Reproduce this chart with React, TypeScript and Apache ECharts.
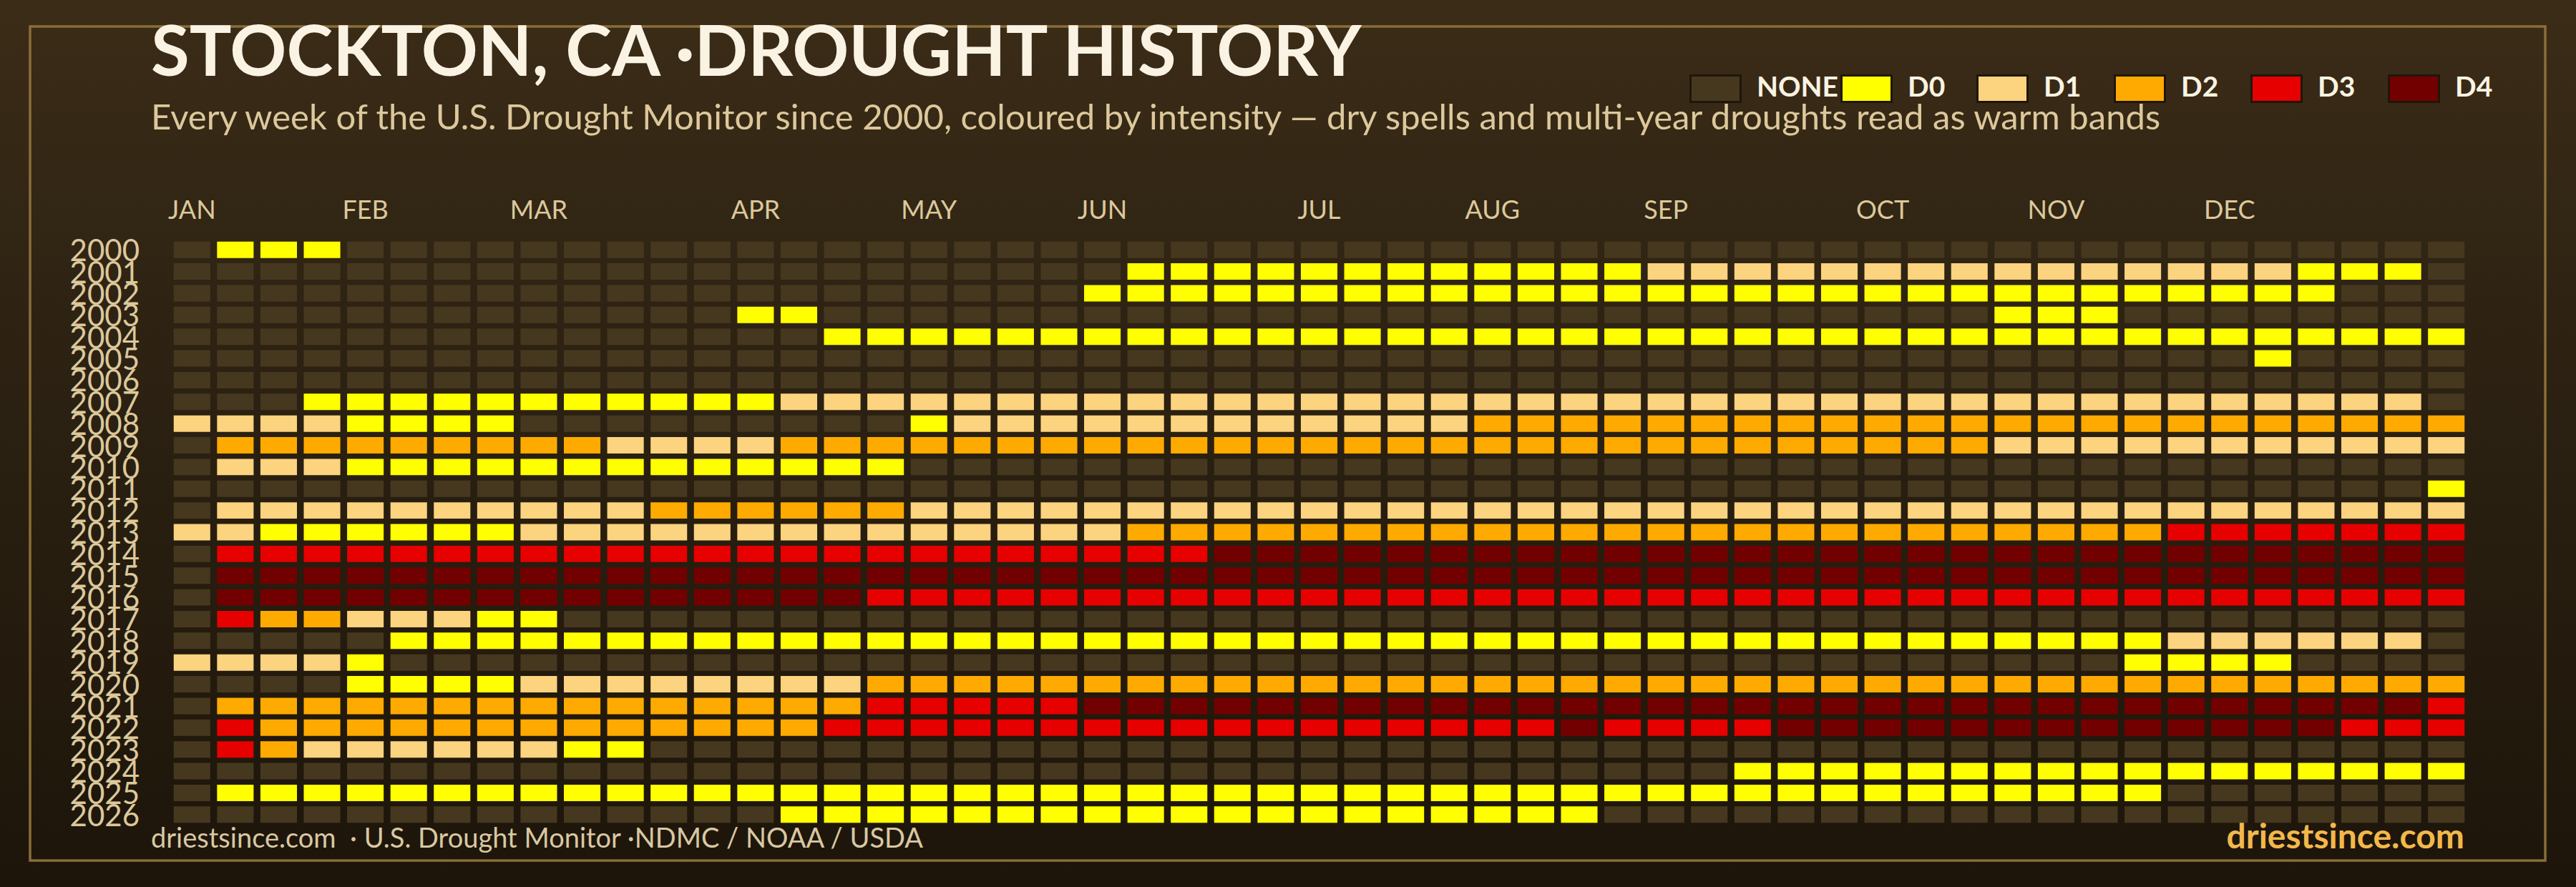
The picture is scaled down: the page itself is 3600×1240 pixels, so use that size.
import { useEffect, useRef } from 'react';
import * as echarts from 'echarts';

// ---------- data ----------
const YEARS = [
  '2000', '2001', '2002', '2003', '2004', '2005', '2006', '2007', '2008',
  '2009', '2010', '2011', '2012', '2013', '2014', '2015', '2016', '2017',
  '2018', '2019', '2020', '2021', '2022', '2023', '2024', '2025', '2026',
];

const MONTH_NAMES = ['JAN', 'FEB', 'MAR', 'APR', 'MAY', 'JUN', 'JUL', 'AUG', 'SEP', 'OCT', 'NOV', 'DEC'];
const MONTH_START_WEEKS = [0, 4, 8, 13, 17, 21, 26, 30, 34, 39, 43, 47];
const WEEK_COUNT = 53;

const LEVEL_NAMES = ['NONE', 'D0', 'D1', 'D2', 'D3', 'D4'];
const LEVEL_COLORS = ['#46381f', '#ffff00', '#fcd37f', '#ffaa00', '#e60000', '#730000'];
// '.' = none, '0'..'4' = D0..D4 ; one character per week (spaces are only for readability)
const LEVEL_CODES = '.01234';

const WEEKLY_LEVELS = [
  '.000...... .......... .......... .......... .......... ...', // 2000
  '.......... .......... ..00000000 0000111111 1111111110 00.', // 2001
  '.......... .......... .000000000 0000000000 0000000000 ...', // 2002
  '.......... ...00..... .......... .......... ..000..... ...', // 2003
  '.......... .....00000 0000000000 0000000000 0000000000 000', // 2004
  '.......... .......... .......... .......... ........0. ...', // 2005
  '.......... .......... .......... .......... .......... ...', // 2006
  '...0000000 0000111111 1111111111 1111111111 1111111111 11.', // 2007
  '11110000.. .......011 1111111111 2222222222 2222222222 222', // 2008
  '.222222222 1111222222 2222222222 2222222222 2211111111 111', // 2009
  '.111000000 0000000... .......... .......... .......... ...', // 2010
  '.......... .......... .......... .......... .......... ..0', // 2011
  '.111111111 1222222111 1111111111 1111111111 1111111111 111', // 2012
  '1100000011 1111111111 1122222222 2222222222 2222223333 333', // 2013
  '.333333333 3333333333 3333444444 4444444444 4444444444 444', // 2014
  '.444444444 4444444444 4444444444 4444444444 4444444444 444', // 2015
  '.444444444 4444443333 3333333333 3333333333 3333333333 333', // 2016
  '.32211100. .......... .......... .......... .......... ...', // 2017
  '.....00000 0000000000 0000000000 0000000000 0000001111 11.', // 2018
  '11110..... .......... .......... .......... .....0000. ...', // 2019
  '....000011 1111112222 2222222222 2222222222 2222222222 222', // 2020
  '.222222222 2222223333 3444444444 4444444444 4444444444 443', // 2021
  '.322222222 2222233333 3333333333 3343333444 4444444444 333', // 2022
  '.321111110 0......... .......... .......... .......... ...', // 2023
  '.......... .......... .......... ......0000 0000000000 000', // 2024
  '.000000000 0000000000 0000000000 0000000000 000000.... ...', // 2025
  '.......... ....000000 0000000000 000....... .......... ...', // 2026
];

const TITLE = 'STOCKTON, CA \u00B7DROUGHT HISTORY';
const SUBTITLE =
  'Every week of the U.S. Drought Monitor since 2000, coloured by intensity \u2014 dry spells and multi-year droughts read as warm bands';
const SOURCE = 'driestsince.com  \u00B7 U.S. Drought Monitor \u00B7NDMC / NOAA / USDA';
const BRAND = 'driestsince.com';

// ---------- derived ----------
const WEEK_LABELS: string[] = [];
for (let w = 0; w < WEEK_COUNT; w++) {
  const m = MONTH_START_WEEKS.indexOf(w);
  WEEK_LABELS.push(m >= 0 ? MONTH_NAMES[m] : '');
}

const CELLS: number[][] = [];
WEEKLY_LEVELS.forEach((row, yi) => {
  const chars = row.replace(/\s/g, '');
  for (let w = 0; w < chars.length; w++) {
    CELLS.push([w, yi, LEVEL_CODES.indexOf(chars[w])]);
  }
});

const FONT = 'Lato, "Open Sans", sans-serif';
const TAN = '#dcc89b';
const CREAM = '#faf3e3';

export default function App() {
  const ref = useRef<HTMLDivElement>(null);

  useEffect(() => {
    document.body.style.margin = '0';
    document.body.style.overflow = 'hidden';
    const chart = echarts.init(ref.current!, null, { renderer: 'svg' });

    const legendX = [2361, 2572, 2762, 2954, 3145, 3337];
    const legendGraphics: any[] = [];
    LEVEL_NAMES.forEach((name, i) => {
      legendGraphics.push({
        type: 'rect',
        shape: { x: legendX[i] + 1.5, y: 105.5, width: 70, height: 37 },
        style: { fill: LEVEL_COLORS[i], stroke: '#1f160a', lineWidth: 3 },
        silent: true,
      });
      legendGraphics.push({
        type: 'text',
        x: legendX[i] + 94,
        y: 120,
        style: {
          text: name,
          fill: CREAM,
          fontSize: 39,
          fontWeight: 'bold',
          fontFamily: FONT,
          verticalAlign: 'middle',
          align: 'left',
        },
        silent: true,
      });
    });

    const option: any = {
      animation: false,
      backgroundColor: 'transparent',
      textStyle: { fontFamily: FONT },
      grid: { left: 238, right: 151, top: 334, bottom: 86 },
      xAxis: {
        type: 'category',
        data: WEEK_LABELS,
        position: 'top',
        axisLine: { show: false },
        axisTick: { show: false },
        splitLine: { show: false },
        axisLabel: {
          interval: 0,
          color: TAN,
          fontSize: 36,
          fontFamily: FONT,
          margin: 24,
        },
      },
      yAxis: {
        type: 'category',
        data: YEARS,
        inverse: true,
        axisLine: { show: false },
        axisTick: { show: false },
        splitLine: { show: false },
        axisLabel: {
          interval: 0,
          color: TAN,
          fontSize: 42,
          lineHeight: 30,
          fontFamily: FONT,
          margin: 43,
        },
      },
      series: [
        {
          type: 'custom',
          data: CELLS,
          encode: { x: 0, y: 1 },
          renderItem: (params: any, api: any) => {
            const c = api.coord([api.value(0), api.value(1)]);
            const s = api.size([1, 1]);
            const w = s[0] - 9.5;
            const h = s[1] - 7.4;
            return {
              type: 'rect',
              shape: { x: c[0] - w / 2, y: c[1] - h / 2, width: w, height: h },
              style: { fill: LEVEL_COLORS[api.value(2)] },
            };
          },
        },
      ],
      graphic: [
        {
          type: 'rect',
          z: -10,
          shape: { x: 42, y: 37, width: 3515, height: 1166 },
          style: { fill: 'none', stroke: '#8a6d38', lineWidth: 3.5 },
          silent: true,
        },
        {
          type: 'text',
          x: 211,
          y: 68,
          style: {
            text: TITLE,
            fill: CREAM,
            fontSize: 98,
            fontWeight: 'bold',
            fontFamily: FONT,
            verticalAlign: 'middle',
          },
          silent: true,
        },
        {
          type: 'text',
          x: 211,
          y: 162,
          style: {
            text: SUBTITLE,
            fill: TAN,
            fontSize: 49,
            fontFamily: FONT,
            verticalAlign: 'middle',
          },
          silent: true,
        },
        ...legendGraphics,
        {
          type: 'text',
          x: 211,
          y: 1170,
          style: {
            text: SOURCE,
            fill: '#d9c8a2',
            fontSize: 38,
            fontFamily: FONT,
            verticalAlign: 'middle',
          },
          silent: true,
        },
        {
          type: 'text',
          x: 3444,
          y: 1167,
          style: {
            text: BRAND,
            fill: '#f2b84b',
            fontSize: 48,
            fontWeight: 'bold',
            fontFamily: FONT,
            align: 'right',
            verticalAlign: 'middle',
          },
          silent: true,
        },
      ],
    };

    chart.setOption(option);
    return () => chart.dispose();
  }, []);

  return (
    <div
      ref={ref}
      style={{
        width: 3600,
        height: 1240,
        background: 'linear-gradient(180deg, #3b2c17 0%, #2e2313 35%, #1d150a 100%)',
      }}
    />
  );
}
